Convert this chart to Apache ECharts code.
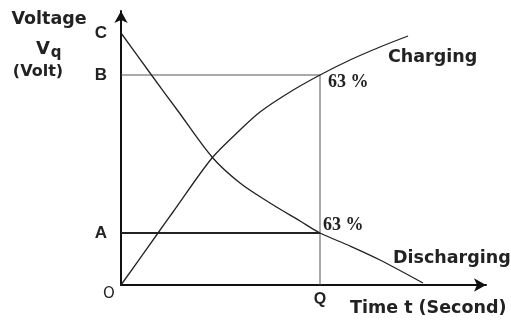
<!DOCTYPE html>
<html>
<head>
<meta charset="utf-8">
<script src="https://cdn.jsdelivr.net/npm/echarts@6/dist/echarts.min.js"></script>
<style>
  html,body{margin:0;padding:0;background:#fff;}
  #chart{width:511px;height:324px;}
</style>
</head>
<body>
<div id="chart"></div>
<script>
// time axis runs 0..365, voltage axis 0..274 (schematic units)
var chargeT = [0, 37, 52, 91, 119, 139, 169, 199, 229, 259, 287];
var chargeV = [0, 52, 73, 127, 155, 173, 193, 210, 225, 238, 249];
var dischargeT = [0, 29, 57, 91, 119, 149, 179, 199, 229, 259, 302];
var dischargeV = [252, 212, 174, 128, 102, 82, 64, 52, 39, 25, 2];

// reference levels
var levelA = 52, levelB = 210, levelC = 252, timeQ = 199;
var yTickValues = [levelA, levelB, levelC];
var yTickNames = ['A', 'B', 'C'];
var xTickValues = [timeQ];
var xTickNames = ['Q'];

function pairs(xs, ys){
    var out = [];
    for (var i = 0; i < xs.length; i++) out.push([xs[i], ys[i]]);
    return out;
}

var textColor = '#222';
var boldSans = 'DejaVu Sans';

var mychart = echarts.init(document.getElementById('chart'));
var option = {
    backgroundColor: '#fff',
    animation: false,
    grid: { left: 121, right: 25, top: 11, bottom: 39 },
    xAxis: {
        type: 'value', min: 0, max: 365,
        splitLine: { show: false },
        axisTick: { show: false },
        axisLine: { lineStyle: { color: '#111', width: 2 }, symbol: ['none', 'arrow'], symbolSize: [10, 12] },
        axisLabel: {
            customValues: xTickValues, margin: 7,
            fontFamily: 'Liberation Sans', fontWeight: 'bold', fontSize: 16, color: textColor,
            formatter: function(v){ return xTickNames[xTickValues.indexOf(v)]; }
        }
    },
    yAxis: {
        type: 'value', min: 0, max: 274,
        splitLine: { show: false },
        axisTick: { show: false },
        axisLine: { lineStyle: { color: '#111', width: 2 }, symbol: ['none', 'arrow'], symbolSize: [10, 12] },
        axisLabel: {
            customValues: yTickValues, margin: 14,
            fontFamily: 'Liberation Sans', fontWeight: 'bold', fontSize: 17, color: textColor,
            formatter: function(v){ return yTickNames[yTickValues.indexOf(v)]; }
        }
    },
    series: [
        {   // B level
            type: 'line', symbol: 'none', silent: true,
            data: [[0, levelB], [timeQ, levelB]],
            lineStyle: { color: '#555', width: 1 }
        },
        {   // A level
            type: 'line', symbol: 'none', silent: true,
            data: [[0, levelA], [timeQ, levelA]],
            lineStyle: { color: '#222', width: 2 }
        },
        {   // Q time
            type: 'line', symbol: 'none', silent: true,
            data: [[timeQ, levelB], [timeQ, 0]],
            lineStyle: { color: '#555', width: 1 }
        },
        {
            name: 'Charging', type: 'line', symbol: 'none', smooth: 0.3,
            data: pairs(chargeT, chargeV),
            lineStyle: { color: '#222', width: 1.3 },
            endLabel: {
                show: true, formatter: 'Charging', offset: [-28, 21],
                fontFamily: boldSans, fontWeight: 'bold', fontSize: 17.5, color: textColor
            },
            markPoint: {
                symbol: 'circle', symbolSize: 0,
                label: {
                    show: true, position: 'right', offset: [3, 7], formatter: '63 %',
                    fontFamily: 'Liberation Serif', fontWeight: 'bold', fontSize: 18, color: textColor
                },
                data: [{ coord: [timeQ, levelB] }]
            }
        },
        {
            name: 'Discharging', type: 'line', symbol: 'none', smooth: 0.3,
            data: pairs(dischargeT, dischargeV),
            lineStyle: { color: '#222', width: 1.3 },
            endLabel: {
                show: true, formatter: 'Discharging', offset: [-38, -25],
                fontFamily: boldSans, fontWeight: 'bold', fontSize: 17.5, color: textColor
            },
            markPoint: {
                symbol: 'circle', symbolSize: 0,
                label: {
                    show: true, position: 'right', offset: [-2, -8], formatter: '63 %',
                    fontFamily: 'Liberation Serif', fontWeight: 'bold', fontSize: 18, color: textColor
                },
                data: [{ coord: [timeQ, levelA] }]
            }
        }
    ],
    graphic: [
        { type: 'text', x: 49, y: 19, style: { text: 'Voltage', font: 'bold 17.5px DejaVu Sans', fill: textColor, align: 'center', verticalAlign: 'middle' } },
        { type: 'text', x: 43, y: 49, style: { text: 'V', font: 'bold 18px DejaVu Sans', fill: textColor, align: 'center', verticalAlign: 'middle' } },
        { type: 'text', x: 56, y: 53, style: { text: 'q', font: 'bold 15px DejaVu Sans', fill: textColor, align: 'center', verticalAlign: 'middle' } },
        { type: 'text', x: 38, y: 72, style: { text: '(Volt)', font: 'bold 16px DejaVu Sans', fill: textColor, align: 'center', verticalAlign: 'middle' } },
        { type: 'text', x: 109, y: 294, style: { text: 'O', font: '15px DejaVu Sans', fill: textColor, align: 'center', verticalAlign: 'middle' } },
        { type: 'text', x: 350, y: 308, style: { text: 'Time t (Second)', font: 'bold 17.5px DejaVu Sans', fill: textColor, align: 'left', verticalAlign: 'middle' } }
    ]
};
mychart.setOption(option);
</script>
</body>
</html>
